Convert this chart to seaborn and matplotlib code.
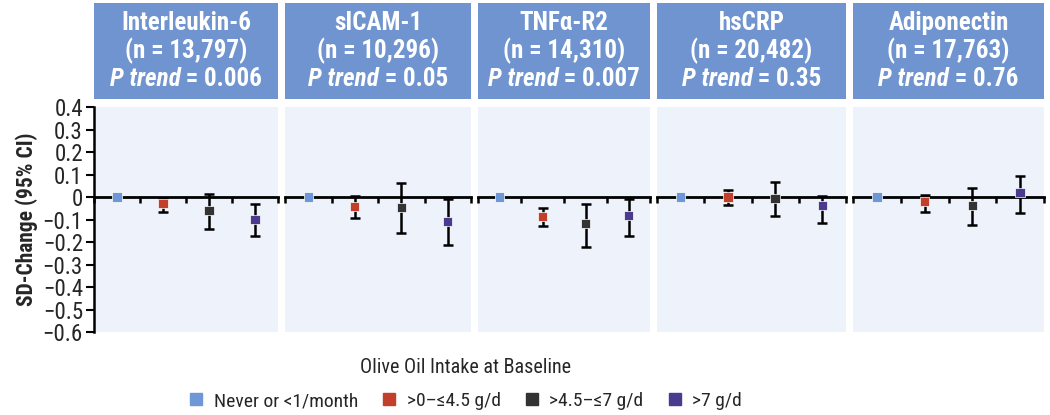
import matplotlib
matplotlib.use("Agg")
import numpy as np
import pandas as pd
import seaborn as sns
import matplotlib.pyplot as plt
from matplotlib.lines import Line2D
from matplotlib.offsetbox import TextArea, HPacker, VPacker, AnchoredOffsetbox

# data
markers = ["Interleukin-6", "sICAM-1", "TNFα-R2", "hsCRP", "Adiponectin"]
n_values = ["13,797", "10,296", "14,310", "20,482", "17,763"]
p_trend = ["0.006", "0.05", "0.007", "0.35", "0.76"]
groups = ["Never or <1/month", ">0–≤4.5 g/d", ">4.5–≤7 g/d", ">7 g/d"]

est_il6 = [0.0, -0.03, -0.06, -0.10]
lo_il6 = [np.nan, -0.065, -0.142, -0.173]
hi_il6 = [np.nan, -0.005, 0.015, -0.03]

est_sicam = [0.0, -0.041, -0.046, -0.108]
lo_sicam = [np.nan, -0.093, -0.159, -0.214]
hi_sicam = [np.nan, 0.003, 0.063, -0.007]

est_tnf = [0.0, -0.087, -0.119, -0.083]
lo_tnf = [np.nan, -0.128, -0.221, -0.174]
hi_tnf = [np.nan, -0.049, -0.031, -0.007]

est_crp = [0.0, 0.0, -0.006, -0.037]
lo_crp = [np.nan, -0.037, -0.083, -0.115]
hi_crp = [np.nan, 0.031, 0.065, 0.004]

est_adipo = [0.0, -0.021, -0.037, 0.019]
lo_adipo = [np.nan, -0.066, -0.125, -0.069]
hi_adipo = [np.nan, 0.007, 0.041, 0.092]

estimates = [est_il6, est_sicam, est_tnf, est_crp, est_adipo]
lowers = [lo_il6, lo_sicam, lo_tnf, lo_crp, lo_adipo]
uppers = [hi_il6, hi_sicam, hi_tnf, hi_crp, hi_adipo]

yticks = [0.4, 0.3, 0.2, 0.1, 0, -0.1, -0.2, -0.3, -0.4, -0.5, -0.6]
ytick_labels = ["0.4", "0.3", "0.2", "0.1", "0", "−0.1", "−0.2", "−0.3",
                "−0.4", "−0.5", "−0.6"]

colors = ["#6d97d6", "#c2402b", "#333333", "#4a3b8f"]
header_color = "#7094cf"
panel_bg = "#eef2fa"

sns.set_theme(style="white")
plt.rcParams["font.family"] = ["Roboto Condensed", "Roboto", "DejaVu Sans"]

W, H = 1050, 415
fig = plt.figure(figsize=(W / 100, H / 100), dpi=100)

lefts = [94, 285, 478, 657, 853]
rights = [278, 471, 650, 846, 1044]

for i, name in enumerate(markers):
    df = pd.DataFrame({
        "group": groups,
        "est": estimates[i],
        "lo": lowers[i],
        "hi": uppers[i],
    })
    x0 = lefts[i] / W
    w = (rights[i] - lefts[i]) / W
    ax = fig.add_axes([x0, 1 - 332 / H, w, 225 / H])
    ax.set_facecolor(panel_bg)

    # error bars (reference group has none), then the square markers
    idx = np.arange(len(df))
    ci = df.dropna()
    ax.errorbar(idx[ci.index], ci["est"],
                yerr=[ci["est"] - ci["lo"], ci["hi"] - ci["est"]],
                fmt="none", ecolor="black", elinewidth=1.8, capsize=3.5,
                capthick=1.8, zorder=3)
    sns.scatterplot(data=df, x="group", y="est", hue="group", palette=colors,
                    marker="s", s=45, linewidth=0.5, edgecolor="white",
                    legend=False, ax=ax, zorder=4)

    ax.set_xlim(-0.5, len(groups) - 0.5)
    ax.set_ylim(-0.6, 0.4)
    ax.set_xticks(np.arange(len(groups) + 1) - 0.5)
    ax.set_xticklabels([])
    ax.tick_params(axis="x", direction="out", length=4, width=1.8,
                   color="black", bottom=True)
    ax.spines["bottom"].set_position(("data", 0))
    ax.spines["bottom"].set_linewidth(2)
    ax.spines["bottom"].set_color("black")
    for s in ["top", "right"]:
        ax.spines[s].set_visible(False)
    ax.set_xlabel("")
    ax.set_ylabel("")
    if i == 0:
        ax.spines["left"].set_color("black")
        ax.spines["left"].set_linewidth(1.8)
        ax.set_yticks(yticks)
        ax.set_yticklabels(ytick_labels, fontsize=16.5)
        ax.tick_params(axis="y", direction="out", length=6, width=1.5,
                       color="black", left=True, pad=2)
        ax.set_ylabel("SD-Change (95% CI)", fontsize=15.5, fontweight="bold",
                      labelpad=3)
    else:
        ax.spines["left"].set_visible(False)
        ax.set_yticks([])

    # header box
    hx = fig.add_axes([x0, 1 - 99 / H, w, 96 / H])
    hx.set_facecolor(header_color)
    hx.set_xticks([])
    hx.set_yticks([])
    for s in hx.spines.values():
        s.set_visible(False)
    tprops = dict(color="white", fontsize=18, fontweight="bold")
    line1 = TextArea(name, textprops=tprops)
    line2 = TextArea(f"(n = {n_values[i]})", textprops=tprops)
    line3 = HPacker(children=[
        TextArea("P trend", textprops=dict(tprops, fontstyle="italic")),
        TextArea(f" = {p_trend[i]}", textprops=tprops)], align="baseline", pad=0, sep=0)
    box = VPacker(children=[line1, line2, line3], align="center", pad=0, sep=2)
    hx.add_artist(AnchoredOffsetbox(loc="center", child=box, frameon=False,
                                    bbox_to_anchor=(0.5, 0.5),
                                    bbox_transform=hx.transAxes, pad=0))

handles = [Line2D([], [], marker="s", linestyle="", color=c, markersize=9)
           for c in colors]
leg = fig.legend(handles, groups, loc="center", bbox_to_anchor=(0.443, 0.075),
                 ncol=4, frameon=False, fontsize=14, handlelength=0.8,
                 handletextpad=0.5, columnspacing=1.2,
                 title="Olive Oil Intake at Baseline", title_fontsize=14.5)
leg._legend_box.sep = 11

fig.savefig("out.png", dpi=100)
